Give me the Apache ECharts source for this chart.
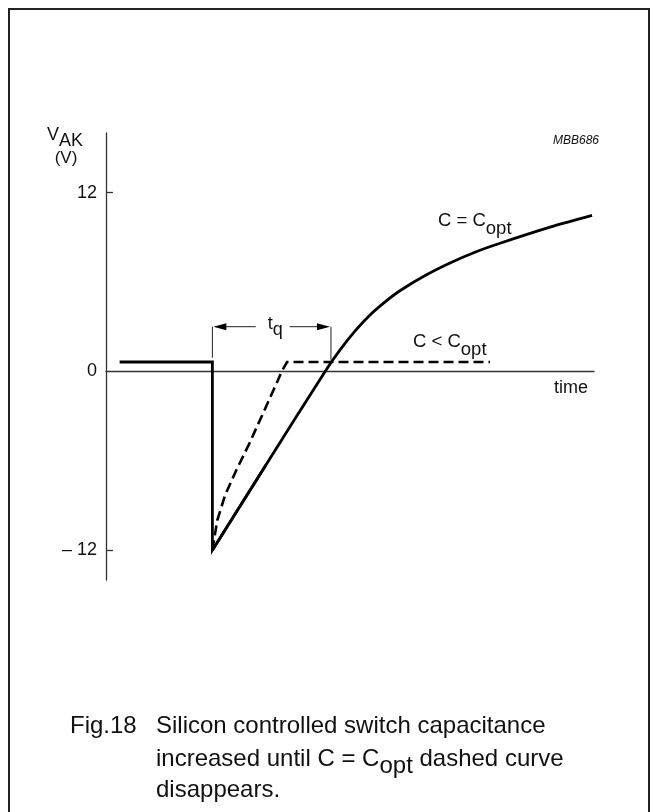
<!DOCTYPE html>
<html>
<head>
<meta charset="utf-8">
<script src="https://cdn.jsdelivr.net/npm/echarts@6/dist/echarts.min.js"></script>
<style>
  html, body { margin: 0; padding: 0; background: #fff; }
  #chart { width: 651px; height: 812px; }
</style>
</head>
<body>
<div id="chart"></div>
<script>
// time axis is in arbitrary units, 0..100
// C = Copt: flat level, drop to -12 V, then the recovery curve
const stepTime = [2.8, 21.8, 21.8, 32.8]
const stepVak = [0.63, 0.63, -12, -6.26]
const riseTime = [21.8, 32.8, 44.9, 48.0, 51.05, 54.1, 57.2, 60.3, 65.4, 70.5, 75.6, 80.75, 91.0, 99.6]
const riseVak = [-12, -6.26, 0, 1.46, 2.72, 3.79, 4.67, 5.43, 6.44, 7.28, 8.0, 8.6, 9.68, 10.47]

// C < Copt: faster recovery, then flat
const dashedTime = [21.8, 22.8, 24.4, 26.7, 29.4, 32.2, 35.1, 36.0, 37.1, 78.7]
const dashedVak = [-12, -9.99, -8.31, -6.63, -4.82, -2.8, -0.69, 0, 0.63, 0.63]

const yTickLabels = [-12, 0, 12]
const yTicks = [-12, 12]

// t_q bracket: start/end time, arrow level, bracket foot levels
const tqTime = [21.8, 46.1]
const tqLevel = 3.0
const tqFoot = [0.92, 0.79]

const FONT = '"Liberation Sans", Arial, Helvetica, sans-serif'
const INK = '#111'

const zip = (xs, ys) => xs.map((x, i) => [x, ys[i]])

const chart = echarts.init(document.getElementById('chart'))

const axisLineStyle = { color: '#333', width: 1.3 }
const thick = { width: 2.8, color: '#000', join: 'miter' }

chart.setOption({
  animation: false,
  grid: { left: 106, right: 57, top: 133, bottom: 232 },
  xAxis: {
    type: 'value',
    min: 0,
    max: 100,
    axisLine: { show: true, onZero: true, lineStyle: axisLineStyle },
    axisTick: { show: false },
    axisLabel: { show: false },
    splitLine: { show: false }
  },
  yAxis: {
    type: 'value',
    min: -14,
    max: 16,
    axisLine: { show: true, lineStyle: axisLineStyle },
    axisTick: { show: true, inside: true, length: 7, customValues: yTicks, lineStyle: axisLineStyle },
    axisLabel: {
      customValues: yTickLabels,
      margin: 9,
      fontSize: 18,
      fontFamily: FONT,
      color: INK,
      formatter: v => (v < 0 ? '\u2013 ' + Math.abs(v) : String(v))
    },
    splitLine: { show: false }
  },
  series: [
    {
      name: 'C = Copt step',
      type: 'line',
      data: zip(stepTime, stepVak),
      symbol: 'none',
      z: 3,
      lineStyle: thick
    },
    {
      name: 'C = Copt',
      type: 'line',
      data: zip(riseTime, riseVak),
      symbol: 'none',
      smooth: 0.3,
      z: 3,
      lineStyle: thick
    },
    {
      name: 'C < Copt',
      type: 'line',
      data: zip(dashedTime, dashedVak),
      symbol: 'none',
      z: 2,
      lineStyle: { width: 2.6, color: '#000', type: [10, 5], join: 'miter' }
    }
  ]
})

// annotations
const px = p => chart.convertToPixel({ gridIndex: 0 }, p)
const a = px([tqTime[0], tqLevel])
const b = px([tqTime[1], tqLevel])
const fa = px([tqTime[0], tqFoot[0]])
const fb = px([tqTime[1], tqFoot[1]])
const mid = (a[0] + b[0]) / 2 + 3
const thin = { stroke: '#222', lineWidth: 1 }

const txt = (x, y, text, size, extra) => ({
  type: 'text',
  x, y,
  style: Object.assign({ text, fill: INK, fontSize: size, fontFamily: FONT, textVerticalAlign: 'middle' }, extra || {})
})

const subRich = (size, drop) => ({
  m: { fontSize: size, fontFamily: FONT, verticalAlign: 'bottom', padding: [0, 0, Math.round(size * drop), 0] },
  s: { fontSize: size, fontFamily: FONT, verticalAlign: 'bottom' }
})

const rich = (x, y, text, size, drop) => ({
  type: 'text', x, y,
  style: { text, rich: subRich(size, drop), fill: INK, textVerticalAlign: 'bottom' }
})

chart.setOption({
  graphic: [
    // frame
    { type: 'polyline', shape: { points: [[9, 830], [9, 9], [649, 9], [649, 830]] }, style: { stroke: '#222', lineWidth: 2, fill: null } },

    // t_q bracket
    { type: 'line', shape: { x1: a[0], y1: fa[1], x2: a[0], y2: a[1] }, style: thin },
    { type: 'line', shape: { x1: b[0], y1: fb[1], x2: b[0], y2: b[1] }, style: thin },
    { type: 'line', shape: { x1: a[0] + 12, y1: a[1], x2: mid - 19, y2: a[1] }, style: thin },
    { type: 'line', shape: { x1: mid + 15, y1: b[1], x2: b[0] - 12, y2: b[1] }, style: thin },
    { type: 'polygon', shape: { points: [[a[0] + 1, a[1]], [a[0] + 14, a[1] - 3.5], [a[0] + 14, a[1] + 3.5]] }, style: { fill: '#000' } },
    { type: 'polygon', shape: { points: [[b[0] - 1, b[1]], [b[0] - 14, b[1] - 3.5], [b[0] - 14, b[1] + 3.5]] }, style: { fill: '#000' } },
    rich(mid - 7, a[1] + 12, '{m|t}{s|q}', 18, 0.35),

    // axis titles
    rich(47, 150, '{m|V}{s|AK}', 18, 0.35),
    txt(66, 158, '(V)', 17, { textAlign: 'center' }),
    txt(588, 388, 'time', 18, { textAlign: 'right' }),
    txt(599, 141, 'MBB686', 12, { textAlign: 'right', fontStyle: 'italic' }),

    // curve labels
    rich(438, 238, '{m|C = C}{s|opt}', 18.5, 0.45),
    rich(413, 359, '{m|C < C}{s|opt}', 18.5, 0.45),

    // caption
    txt(70, 726, 'Fig.18', 24),
    txt(156, 726, 'Silicon controlled switch capacitance', 24),
    rich(156, 778, '{m|increased until C = C}{s|opt}{m| dashed curve}', 24, 0.3),
    txt(156, 790, 'disappears.', 24)
  ]
})
</script>
</body>
</html>
